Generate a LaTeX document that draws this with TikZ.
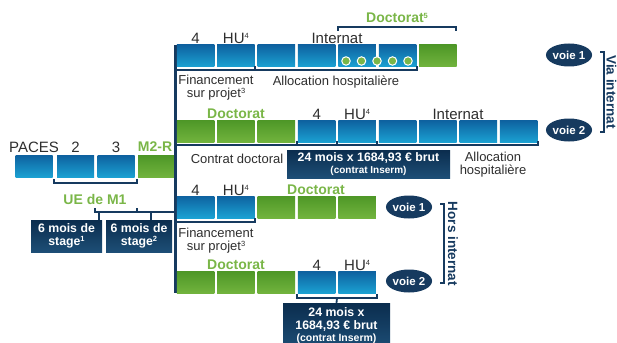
\documentclass[tikz,border=0pt]{standalone}
\usepackage{fontspec}
\setmainfont{Liberation Sans}
\usetikzlibrary{shapes.geometric}
\definecolor{navy}{HTML}{163A5F}
\definecolor{gtext}{HTML}{7AB648}
\definecolor{dgray}{HTML}{2E2E2E}
\definecolor{btop}{HTML}{0E62A0}
\definecolor{bbot}{HTML}{1BA2D3}
\definecolor{gtop}{HTML}{4E9727}
\definecolor{gbot}{HTML}{72B43E}
\definecolor{ntop}{HTML}{0B2D4E}
\definecolor{nbot}{HTML}{1D4E76}
\definecolor{dotg}{HTML}{7AB648}
\newcommand{\sups}[1]{\raisebox{0.32em}{\fontsize{7.5}{7.5}\selectfont #1}}
\tikzset{
  bbox/.style={rectangle, minimum width=37.5pt, minimum height=22pt, inner sep=0pt, top color=btop, bottom color=bbot},
  gbox/.style={rectangle, minimum width=37.5pt, minimum height=22pt, inner sep=0pt, top color=gtop, bottom color=gbot},
  nbox/.style={rectangle, inner sep=0pt, top color=ntop, bottom color=nbot, text=white, font=\bfseries\fontsize{12.3}{12.5}\selectfont, align=center},
  lbl/.style={text=dgray, inner sep=0pt, font=\fontsize{13}{13}\selectfont, align=center},
  hlbl/.style={text=dgray, inner sep=0pt, font=\fontsize{15}{15}\selectfont},
  glbl/.style={text=gtext, inner sep=0pt, font=\bfseries\fontsize{14}{14}\selectfont},
  voie/.style={ellipse, fill=navy, minimum width=45pt, minimum height=23pt, inner sep=0pt, text=white, font=\bfseries\fontsize{11.5}{12}\selectfont},
  brk/.style={draw=navy, line width=1.8pt},
  vtxt/.style={text=navy, inner sep=0pt, rotate=-90, font=\bfseries\fontsize{13.5}{14}\selectfont},
  gdot/.style={circle, fill=dotg, draw=white, line width=1pt, minimum size=8.5pt, inner sep=0pt}
}
\begin{document}
\begin{tikzpicture}[x=1pt,y=-1pt]
\useasboundingbox (0,0) rectangle (617,342);
\clip (0,0) rectangle (617,342);

% ---------- left part ----------
\node[bbox, minimum width=37pt] (p1) at (34,166.5) {};
\node[bbox, minimum width=37pt] (p2) at (75.5,166.5) {};
\node[bbox, minimum width=37pt] (p3) at (116,166.5) {};
\node[gbox, minimum width=36pt] (p4) at (156,166.5) {};
\node[hlbl] (tpaces) at (34,147) {PACES};
\node[hlbl] (t2) at (75.5,147) {2};
\node[hlbl] (t3) at (116,147) {3};
\node[glbl] (tm2r) at (155,147) {M2-R};
\draw[brk] (54,179) -- (54,183) -- (137,183) -- (137,179);
\node[glbl] (tue) at (95,199) {UE de M1};
\draw[brk] (95,208) -- (95,212) -- (175.5,212);
\draw[brk] (137,208) -- (137,212);
\node[nbox, minimum width=71pt, minimum height=32pt] (s1) at (66.5,236) {6 mois de\\stage\sups{1}};
\node[nbox, minimum width=66pt, minimum height=32pt] (s2) at (139,236) {6 mois de\\stage\sups{2}};
\draw[brk] (99,212) -- (99,220);
\draw[brk] (151,212) -- (151,220);

% main vertical line
\coordinate (vtop) at (175.5,45);
\coordinate (vbot) at (175.5,293);
\draw[draw=navy, line width=3pt] (vtop) -- (vbot);

% ---------- row 1 : via internat voie 1 ----------
\node[bbox] (a1) at (195.5,56) {};
\node[bbox] (a2) at (235.9,56) {};
\node[bbox] (a3) at (276.3,56) {};
\node[bbox] (a4) at (316.7,56) {};
\node[bbox] (a5) at (357.1,56) {};
\node[bbox] (a6) at (397.5,56) {};
\node[gbox] (a7) at (437.9,56) {};
\foreach \x [count=\i] in {346,361.5,377,392.5,408}
  \node[gdot] (d\i) at (\x,61) {};
\node[hlbl] (a1t) at (195.5,38) {4};
\node[hlbl] (a2t) at (235.9,38) {HU\sups{4}};
\node[hlbl] (a4t) at (337,38) {Internat};
\node[glbl] (a7t) at (397,18) {Doctorat\sups{5}};
\draw[brk] (338,31) -- (338,27) -- (456,27) -- (456,31);
\draw[brk] (175.5,70) -- (417,70) -- (417,66);
\draw[brk] (255,70) -- (255,66);
\node[lbl] (fin1) at (216,88) {Financement\\sur projet\sups{3}};
\node[lbl] (all1) at (336,82) {Allocation hospitalière};

% ---------- row 2 : via internat voie 2 ----------
\node[gbox] (b1) at (195.5,131.5) {};
\node[gbox] (b2) at (235.9,131.5) {};
\node[gbox] (b3) at (276.3,131.5) {};
\node[bbox] (b4) at (316.7,131.5) {};
\node[bbox] (b5) at (357.1,131.5) {};
\node[bbox] (b6) at (397.5,131.5) {};
\node[bbox] (b7) at (437.9,131.5) {};
\node[bbox] (b8) at (478.3,131.5) {};
\node[bbox] (b9) at (518.7,131.5) {};
\node[glbl] (b1t) at (236,114) {Doctorat};
\node[hlbl] (b4t) at (316.7,114) {4};
\node[hlbl] (b5t) at (357.1,114) {HU\sups{4}};
\node[hlbl] (b7t) at (458,114) {Internat};
\draw[brk] (175.5,145) -- (538,145) -- (538,141);
\draw[brk] (297,145) -- (297,141);
\draw[brk] (337,145) -- (337,141);
\draw[brk] (377,145) -- (377,141);
\node[lbl] (cd) at (237,159) {Contrat doctoral};
\node[nbox, minimum width=163pt, minimum height=28pt] (m24a) at (368.5,164) {24 mois x 1684,93 € brut\\[-1pt]{\fontsize{10}{11}\selectfont(contrat Inserm)}};
\node[lbl] (all2) at (493,165) {Allocation\\hospitalière};

% ---------- row 3 : hors internat voie 1 ----------
\node[bbox] (c1) at (195.5,207) {};
\node[bbox] (c2) at (235.9,207) {};
\node[gbox] (c3) at (276.3,207) {};
\node[gbox] (c4) at (316.7,207) {};
\node[gbox] (c5) at (357.1,207) {};
\node[hlbl] (c1t) at (195.5,190) {4};
\node[hlbl] (c2t) at (235.9,190) {HU\sups{4}};
\node[glbl] (c4t) at (316,190) {Doctorat};
\draw[brk] (175.5,222) -- (255,222) -- (255,218);
\node[lbl] (fin2) at (216,241) {Financement\\sur projet\sups{3}};

% ---------- row 4 : hors internat voie 2 ----------
\node[gbox] (e1) at (195.5,282.5) {};
\node[gbox] (e2) at (235.9,282.5) {};
\node[gbox] (e3) at (276.3,282.5) {};
\node[bbox] (e4) at (316.7,282.5) {};
\node[bbox] (e5) at (357.1,282.5) {};
\node[glbl] (e1t) at (236,265) {Doctorat};
\node[hlbl] (e4t) at (316.7,265) {4};
\node[hlbl] (e5t) at (357.1,265) {HU\sups{4}};
\draw[brk] (297,294) -- (297,298) -- (377,298) -- (377,294);
\node[nbox, minimum width=107pt, minimum height=46pt] (m24b) at (336.5,326) {24 mois x\\1684,93 € brut\\{\fontsize{10.5}{11}\selectfont(contrat Inserm)}};
\draw[brk] (337,298) -- (m24b.north);

% ---------- voies ----------
\node[voie] (v1a) at (569,55) {voie 1};
\node[voie] (v2a) at (569,130) {voie 2};
\draw[brk] (600,52) -- (604,52) -- (604,132) -- (600,132);
\node[vtxt] (via) at (611.5,92) {Via internat};
\node[voie] (v1b) at (409,207) {voie 1};
\node[voie] (v2b) at (409,281) {voie 2};
\draw[brk] (440,204) -- (444,204) -- (444,283) -- (440,283);
\node[vtxt] (hors) at (453,244) {Hors internat};
\end{tikzpicture}
\end{document}
